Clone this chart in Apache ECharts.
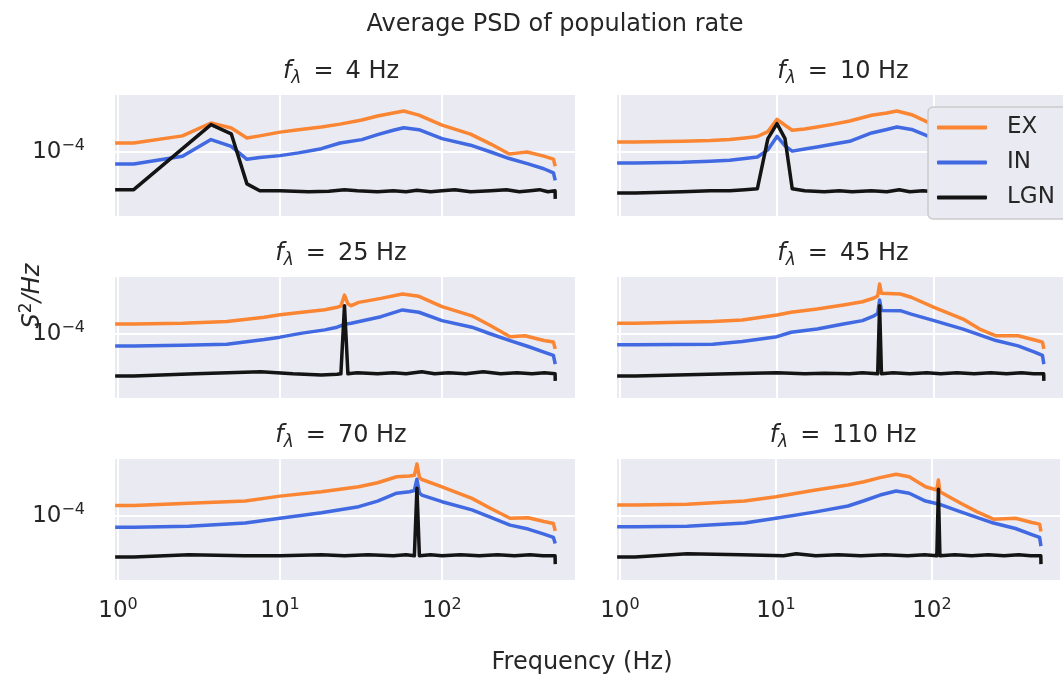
<!DOCTYPE html>
<html>
<head>
<meta charset="utf-8">
<script src="https://cdn.jsdelivr.net/npm/echarts@6/dist/echarts.min.js"></script>
<style>html,body{margin:0;padding:0;background:#fff}#chart{width:1063px;height:676px}</style>
</head>
<body>
<div id="chart"></div>
<script>
const FONT = 'DejaVu Sans';
const INK = '#262626';

// stimulus frequency of each panel (Hz)
const STIM_HZ = [4, 10, 25, 45, 70, 110];

// PSD, [frequency Hz, value in 1e-4 S^2/Hz]
const EX_4 = [[0.96,1.23],[1.25,1.23],[2.5,1.45],[3.75,1.95],[5,1.74],[6.25,1.38],[7.5,1.45],[10,1.58],[13,1.67],[18,1.78],[23.5,1.9],[32,2.09],[40,2.29],[50,2.45],[58,2.57],[72,2.34],[100,1.86],[150,1.51],[200,1.2],[260,0.955],[300,0.98],[335,1.0],[425,0.91],[487,0.85],[498.75,0.84],[500,0.72]];
const IN_4 = [[0.96,0.76],[1.25,0.76],[2.5,0.905],[3.75,1.33],[5,1.14],[6.25,0.845],[7.5,0.88],[10,0.92],[13,0.98],[18,1.08],[23.5,1.23],[32,1.33],[40,1.49],[50,1.65],[58,1.75],[72,1.67],[100,1.36],[150,1.17],[200,1.0],[260,0.86],[340,0.76],[425,0.68],[487,0.62],[498.75,0.61],[500,0.52]];
const LGN_4 = [[0.96,0.42],[1.25,0.42],[2.5,1.08],[3.75,1.88],[5,1.52],[6.25,0.48],[7.5,0.41],[10,0.41],[15,0.40],[20,0.405],[25,0.42],[30,0.41],[40,0.40],[50,0.41],[60,0.40],[70,0.415],[85,0.40],[100,0.41],[120,0.42],[150,0.40],[200,0.41],[250,0.42],[300,0.40],[350,0.41],[400,0.42],[450,0.40],[498.75,0.41],[500,0.34]];

const EX_10 = [[0.96,1.26],[1.25,1.26],[2.5,1.28],[3.75,1.30],[5,1.33],[6.25,1.38],[7.5,1.43],[8.75,1.6],[10,2.12],[11.25,1.85],[12.5,1.65],[15,1.70],[18,1.78],[23,1.9],[29,2.04],[40,2.33],[50,2.45],[58,2.57],[72,2.36],[100,1.86],[150,1.5],[200,1.2],[260,0.95],[335,1.0],[425,0.9],[487,0.85],[498.75,0.84],[500,0.72]];
const IN_10 = [[0.96,0.776],[1.25,0.776],[2.5,0.79],[3.75,0.81],[5,0.826],[6.25,0.86],[7.5,0.89],[8.75,1.05],[10,1.43],[11.25,1.15],[12.5,1.02],[15,1.07],[18,1.12],[23,1.2],[29,1.28],[40,1.55],[50,1.68],[58,1.78],[72,1.68],[100,1.36],[150,1.17],[200,1.0],[260,0.86],[340,0.76],[425,0.68],[487,0.62],[498.75,0.61],[500,0.52]];
const LGN_10 = [[0.96,0.39],[1.25,0.39],[2.5,0.40],[3.75,0.41],[5,0.41],[6.25,0.42],[7.5,0.43],[8.75,1.36],[10,1.92],[11.25,1.36],[12.5,0.43],[15,0.41],[20,0.40],[25,0.41],[30,0.40],[40,0.41],[50,0.40],[60,0.42],[70,0.40],[85,0.41],[100,0.40],[150,0.41],[200,0.40],[300,0.41],[400,0.40],[498.75,0.41],[500,0.34]];

const EX_25 = [[0.96,1.26],[1.25,1.26],[2.5,1.28],[4.7,1.33],[8,1.47],[10,1.56],[13.7,1.65],[18.9,1.75],[22.5,1.85],[23.75,1.9],[25,2.45],[26.25,2.0],[27.5,1.92],[30.6,2.07],[42,2.27],[57,2.51],[72,2.38],[100,1.88],[153,1.52],[200,1.21],[263,0.94],[325,0.96],[426,0.86],[487,0.83],[498.75,0.82],[500,0.71]];
const IN_25 = [[0.96,0.76],[1.25,0.76],[2.5,0.77],[4.7,0.79],[8,0.88],[10,0.93],[13.7,1.02],[18.9,1.10],[22.5,1.17],[25,1.25],[27.5,1.28],[42,1.49],[57,1.74],[72,1.65],[100,1.36],[153,1.17],[200,1.0],[263,0.86],[340,0.75],[426,0.66],[487,0.61],[498.75,0.60],[500,0.50]];
const LGN_25 = [[0.96,0.38],[1.25,0.38],[3,0.40],[7.6,0.42],[12,0.40],[18,0.39],[22.5,0.395],[23.75,0.40],[25,1.92],[26.25,0.40],[30,0.41],[40,0.40],[50,0.41],[60,0.40],[75,0.42],[90,0.40],[110,0.41],[140,0.40],[180,0.42],[230,0.40],[290,0.41],[360,0.40],[430,0.41],[498.75,0.40],[500,0.34]];

const EX_45 = [[0.96,1.28],[1.25,1.28],[3.9,1.33],[6,1.38],[10,1.55],[12.3,1.65],[18,1.78],[26.5,1.95],[35,2.1],[41.5,2.29],[43.75,2.4],[45,3.16],[46.25,2.55],[47.5,2.51],[61,2.51],[71.5,2.33],[100,1.85],[153,1.41],[195,1.12],[248,0.96],[343,0.96],[437,0.87],[490,0.83],[498.75,0.82],[500,0.71]];
const IN_45 = [[0.96,0.78],[1.25,0.78],[3.9,0.79],[6,0.84],[10,0.94],[12.3,1.04],[18,1.12],[26.5,1.26],[35,1.36],[41.5,1.52],[43.75,1.6],[45,2.19],[46.25,1.72],[47.5,1.69],[61,1.71],[71.5,1.58],[100,1.36],[153,1.12],[248,0.86],[343,0.76],[437,0.66],[490,0.61],[498.75,0.60],[500,0.50]];
const LGN_45 = [[0.96,0.38],[1.25,0.38],[5,0.40],[10,0.41],[15,0.40],[20,0.405],[29,0.40],[35,0.41],[43.75,0.40],[45,1.92],[46.25,0.40],[55,0.41],[70,0.40],[90,0.41],[110,0.40],[140,0.41],[180,0.40],[230,0.41],[290,0.40],[360,0.41],[430,0.40],[498.75,0.40],[500,0.34]];

const EX_70 = [[0.96,1.27],[1.25,1.27],[2.74,1.34],[6.1,1.41],[10,1.58],[18,1.75],[30.6,1.96],[40,2.15],[52.5,2.47],[63,2.51],[67.5,2.55],[70,3.31],[72.5,2.45],[74.5,2.33],[100,1.96],[153,1.5],[200,1.19],[263,0.95],[340,0.96],[426,0.88],[487,0.84],[498.75,0.83],[500,0.71]];
const IN_70 = [[0.96,0.77],[1.25,0.77],[2.74,0.79],[6.1,0.85],[10,0.95],[18,1.08],[30.6,1.24],[40,1.41],[52.5,1.69],[63,1.75],[67.5,1.8],[70,2.33],[72.5,1.7],[75,1.62],[100,1.39],[153,1.15],[200,0.97],[263,0.81],[340,0.74],[426,0.66],[487,0.61],[498.75,0.60],[500,0.53]];
const LGN_70 = [[0.96,0.39],[1.25,0.39],[2.74,0.41],[6,0.40],[10,0.40],[18,0.41],[25,0.40],[35,0.41],[50,0.40],[60,0.41],[67.5,0.40],[70,1.89],[72.5,0.40],[85,0.41],[100,0.40],[130,0.41],[170,0.40],[220,0.41],[280,0.40],[350,0.41],[420,0.40],[498.75,0.40],[500,0.33]];

const EX_110 = [[0.96,1.29],[1.25,1.29],[2.7,1.31],[6.3,1.41],[10,1.56],[18,1.82],[29,2.04],[36.7,2.2],[46.5,2.42],[59,2.61],[71.5,2.47],[91,1.96],[107.5,1.82],[110,2.29],[112.5,1.75],[115,1.71],[153,1.34],[195,1.10],[248,0.93],[343,0.95],[437,0.86],[490,0.83],[498.75,0.82],[500,0.70]];
const IN_110 = [[0.96,0.78],[1.25,0.78],[2.7,0.79],[6.3,0.85],[10,0.95],[18,1.10],[29,1.26],[36.7,1.42],[46.5,1.62],[59,1.78],[71.5,1.69],[91,1.41],[110,1.32],[153,1.10],[248,0.85],[343,0.75],[437,0.65],[490,0.61],[498.75,0.60],[500,0.50]];
const LGN_110 = [[0.96,0.39],[1.25,0.39],[2.7,0.42],[6,0.41],[11.2,0.40],[13.5,0.42],[18,0.40],[25,0.41],[35,0.40],[50,0.41],[70,0.40],[90,0.41],[107.5,0.40],[110,1.85],[112.5,0.40],[140,0.41],[180,0.40],[230,0.41],[290,0.40],[360,0.41],[430,0.40],[498.75,0.40],[500,0.33]];

const EX = [EX_4, EX_10, EX_25, EX_45, EX_70, EX_110];
const IN = [IN_4, IN_10, IN_25, IN_45, IN_70, IN_110];
const LGN = [LGN_4, LGN_10, LGN_25, LGN_45, LGN_70, LGN_110];
const PSD_UNIT = 1e-4;

const NAMES = ['EX', 'IN', 'LGN'];
const COLORS = ['#fa8532', '#4169e1', '#141414'];

const myChart = echarts.init(document.getElementById('chart'));

const colLeft = [115, 617];
const rowTop = [95, 277, 459];
const W = 460, H = 121;

const supRich = { sup: { fontSize: 16, lineHeight: 14, verticalAlign: 'top', fontFamily: FONT, color: INK } };
function powLabel(v) {
  const e = Math.log10(v);
  const r = Math.round(e);
  if (Math.abs(e - r) > 0.01) return '';
  return '10{sup|' + (r < 0 ? '\u2212' : '') + Math.abs(r) + '}';
}

const grids = [], xAxes = [], yAxes = [], series = [], graphics = [];
STIM_HZ.forEach(function (hz, i) {
  const row = Math.floor(i / 2), col = i % 2;
  grids.push({
    left: colLeft[col], top: rowTop[row], width: W, height: H,
    show: true, backgroundColor: '#eaeaf2', borderWidth: 0
  });
  xAxes.push({
    type: 'log', logBase: 10, gridIndex: i, min: 0.958, max: 662,
    axisLine: { show: false }, axisTick: { show: false },
    splitLine: { show: true, showMinLine: false, showMaxLine: false, lineStyle: { color: '#ffffff', width: 2 } },
    axisLabel: {
      show: row === 2, margin: 17, formatter: powLabel,
      fontSize: 23, fontFamily: FONT, color: INK, lineHeight: 28, rich: supRich
    }
  });
  yAxes.push({
    type: 'log', logBase: 10, gridIndex: i, min: 2.291e-5, max: 3.715e-4,
    axisLine: { show: false }, axisTick: { show: false },
    splitLine: { show: true, showMinLine: false, showMaxLine: false, lineStyle: { color: '#ffffff', width: 2 } },
    axisLabel: {
      show: col === 0, margin: 30, formatter: powLabel,
      fontSize: 23, fontFamily: FONT, color: INK, lineHeight: 28, rich: supRich
    }
  });
  [EX[i], IN[i], LGN[i]].forEach(function (arr, k) {
    series.push({
      type: 'line', name: NAMES[k], xAxisIndex: i, yAxisIndex: i,
      data: arr.map(function (p) { return [p[0], p[1] * PSD_UNIT]; }),
      showSymbol: false, symbol: 'none', clip: true, silent: true, z: 2,
      lineStyle: { color: COLORS[k], width: 3.5, join: 'round' },
      itemStyle: { color: COLORS[k] }
    });
  });
  graphics.push({
    type: 'text', x: colLeft[col] + W / 2 - 4, y: rowTop[row] - 23,
    style: {
      text: '{i|f}{sub|\u03bb}{n|\u2002=\u2002' + hz + ' Hz}',
      align: 'center', verticalAlign: 'middle',
      rich: {
        i: { fontSize: 24, fontStyle: 'italic', fontFamily: FONT, fill: INK, lineHeight: 30 },
        sub: { fontSize: 17, fontStyle: 'italic', fontFamily: FONT, fill: INK, lineHeight: 16, verticalAlign: 'bottom' },
        n: { fontSize: 24, fontFamily: FONT, fill: INK, lineHeight: 30 }
      }
    }
  });
});

graphics.push({
  type: 'text', x: 555, y: 25,
  style: { text: 'Average PSD of population rate', fontSize: 24, fontFamily: FONT, fill: INK, align: 'center', verticalAlign: 'middle' }
});
graphics.push({
  type: 'text', x: 582, y: 663,
  style: { text: 'Frequency (Hz)', fontSize: 24, fontFamily: FONT, fill: INK, align: 'center', verticalAlign: 'middle' }
});
graphics.push({
  type: 'text', x: 33, y: 296, rotation: Math.PI / 2,
  style: {
    text: '{i|S}{sup|2}{i|/Hz}', align: 'center', verticalAlign: 'middle',
    rich: {
      i: { fontSize: 24, fontStyle: 'italic', fontFamily: FONT, fill: INK, lineHeight: 30 },
      sup: { fontSize: 17, fontFamily: FONT, fill: INK, lineHeight: 15, verticalAlign: 'top' }
    }
  }
});

const option = {
  animation: false,
  grid: grids,
  xAxis: xAxes,
  yAxis: yAxes,
  legend: {
    data: NAMES, orient: 'vertical', left: 928, top: 107, z: 10,
    backgroundColor: '#eaeaf2', borderColor: '#cccccc', borderWidth: 1.5, borderRadius: 5,
    padding: [9, 20, 10, 9], itemGap: 12, itemWidth: 50, itemHeight: 4, icon: 'roundRect',
    selectedMode: false,
    textStyle: { fontSize: 23, fontFamily: FONT, color: INK, padding: [0, 0, 0, 15] }
  },
  graphic: graphics,
  series: series
};
myChart.setOption(option);
</script>
</body>
</html>
